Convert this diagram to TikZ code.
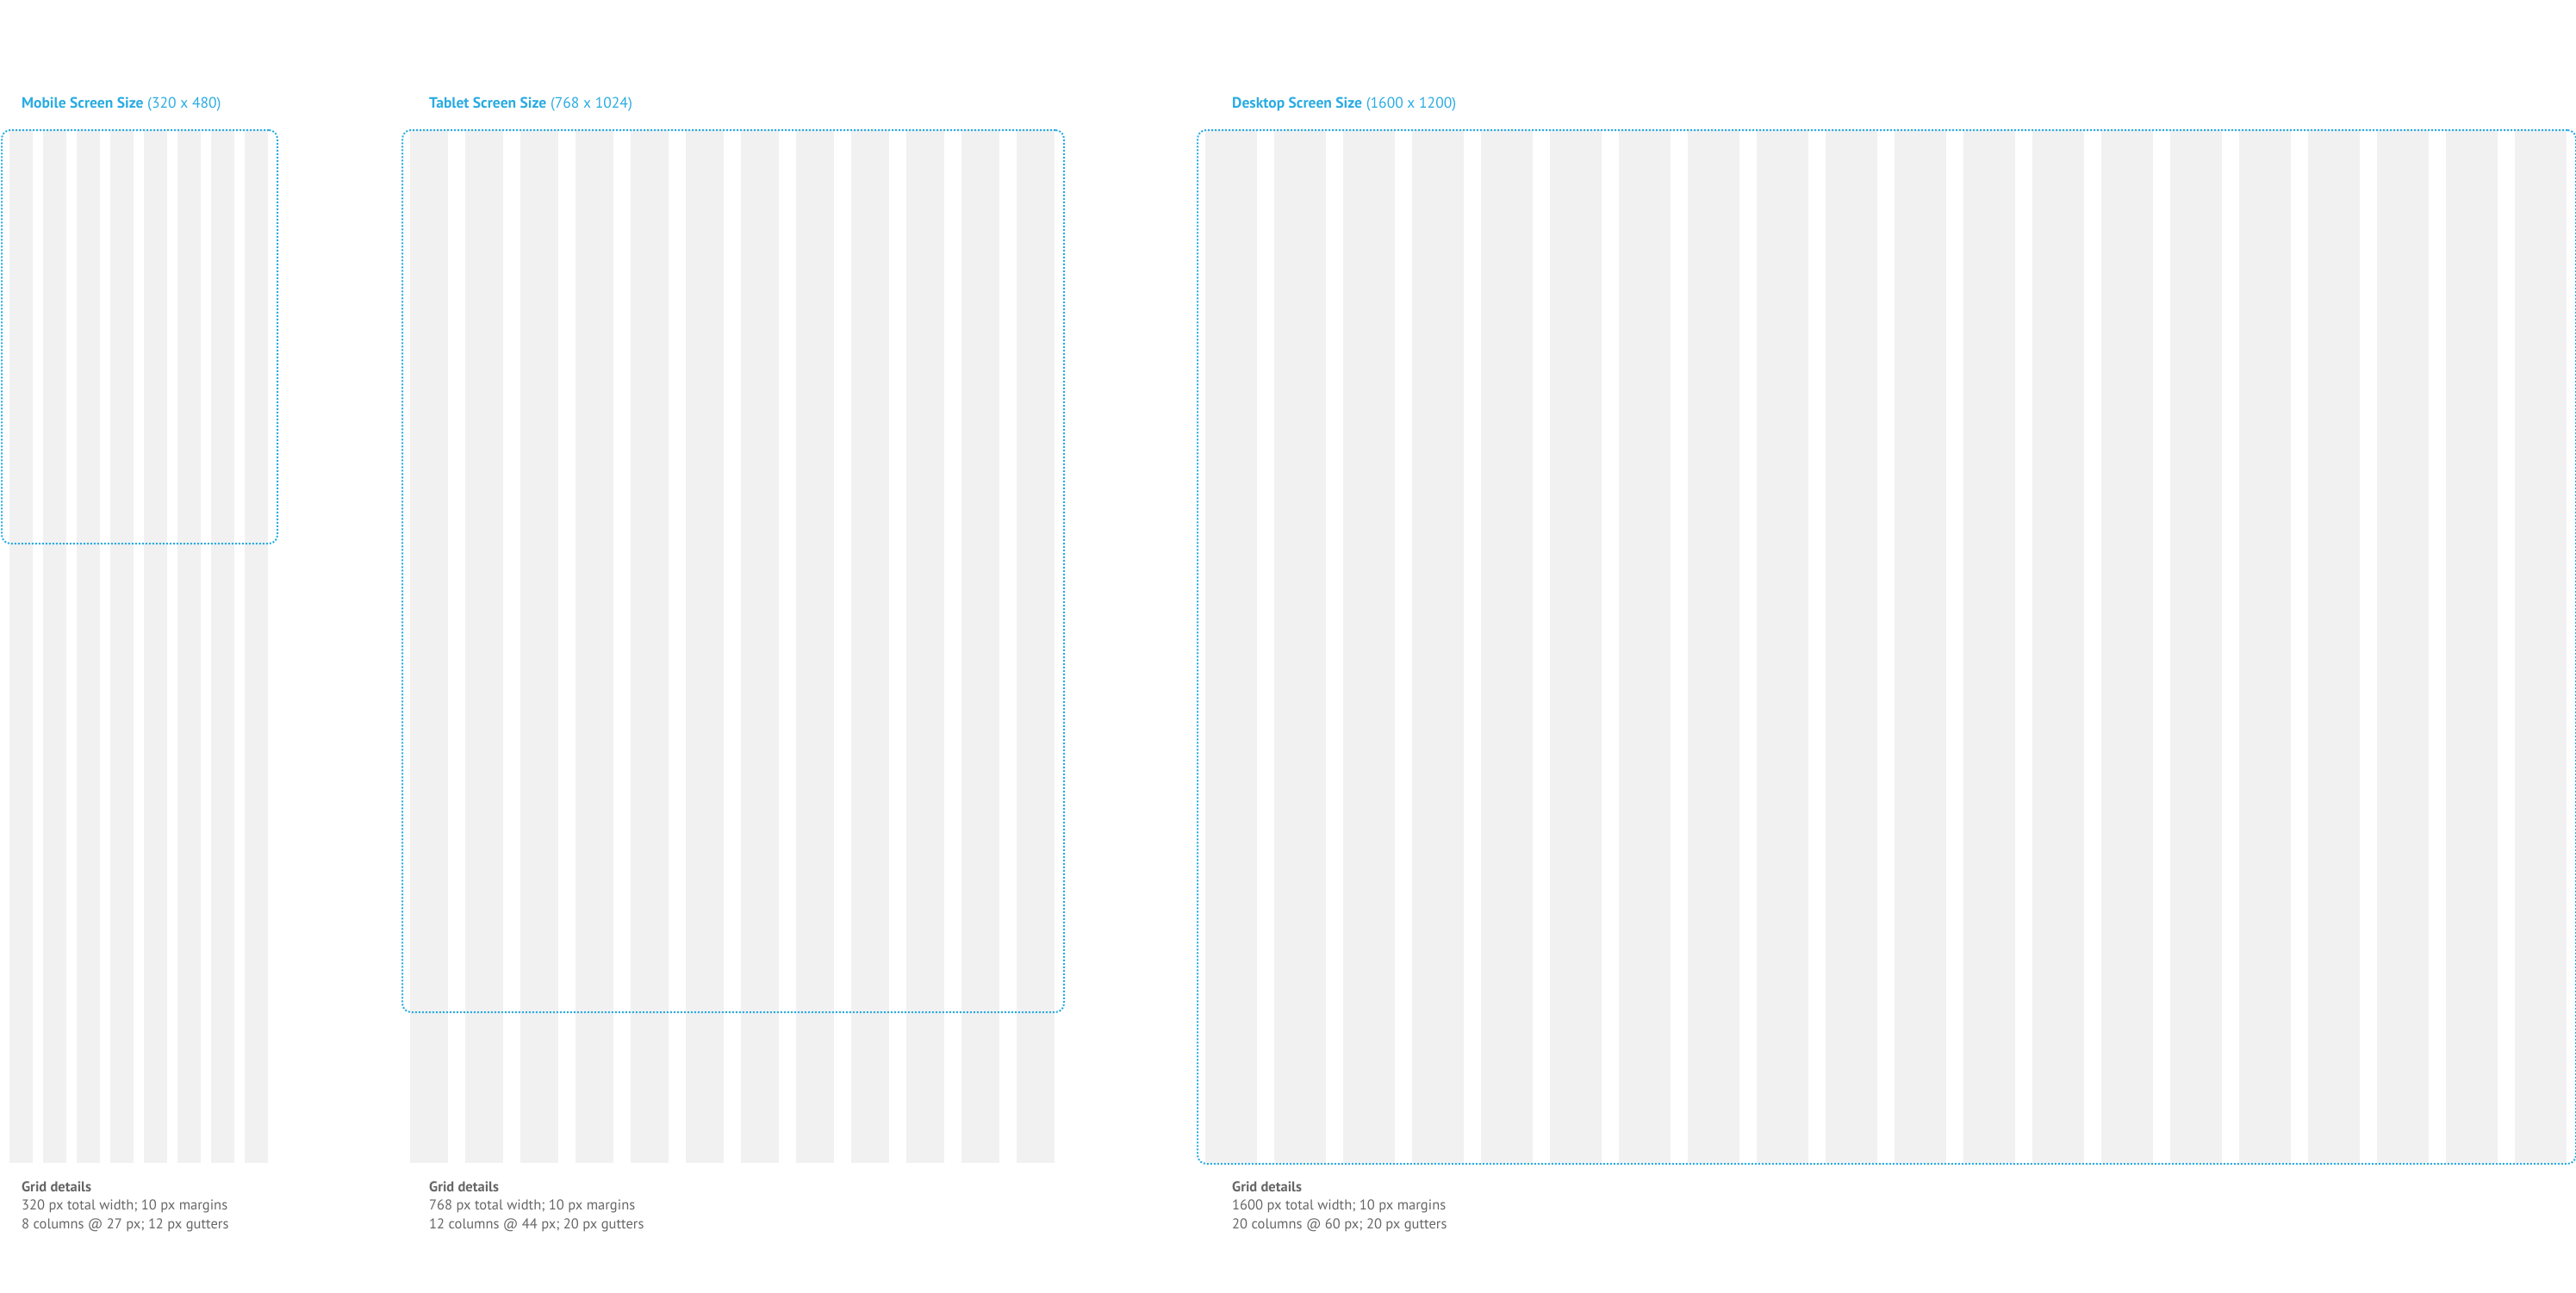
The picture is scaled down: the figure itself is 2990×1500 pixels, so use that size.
\documentclass[tikz,border=0pt]{standalone}
\usepackage{fontspec}
\setmainfont{PT Sans}
\usepackage{xcolor}
\usepackage{tikz}
\usetikzlibrary{positioning}

\definecolor{screenblue}{HTML}{29ABE2}
\definecolor{colgray}{HTML}{F1F1F1}
\definecolor{textgray}{HTML}{666666}

\tikzset{
  gridcol/.style={fill=colgray, draw=none},
  screenbox/.style={draw=screenblue, line width=2pt, dash pattern=on 2pt off 2pt,
    rounded corners=10pt, inner sep=0pt, anchor=north west},
  screentitle/.style={inner sep=0pt, anchor=base west, text=screenblue,
    font=\fontsize{17.5}{21}\selectfont},
  gridnote/.style={inner sep=0pt, anchor=base west, text=textgray,
    font=\fontsize{16.5}{21}\selectfont}
}

\begin{document}
\begin{tikzpicture}[x=1pt, y=-1pt]
  \useasboundingbox (0,0) rectangle (2990,1500);

  % columns first, the dotted screen outline goes on top
  \foreach \name/\bx/\w/\h/\n/\cw/\gw in {mobile/1/320/480/8/27/12,
      tablet/466/768/1024/12/44/20, desktop/1389/1600/1200/20/60/20} {
    \foreach \c in {1,...,\n} {
      \fill[gridcol] ({\bx+10+(\c-1)*(\cw+\gw)}, 151) rectangle +(\cw, 1199);
    }
    \node[screenbox, minimum width=\w pt, minimum height=\h pt] (\name) at (\bx, 150) {};
  }

  % titles
  \node[screentitle] (mobiletitle) at (25, 125) {\textbf{Mobile Screen Size} (320 x 480)};
  \node[screentitle] (tablettitle) at (498, 125) {\textbf{Tablet Screen Size} (768 x 1024)};
  \node[screentitle] (desktoptitle) at (1430, 125) {\textbf{Desktop Screen Size} (1600 x 1200)};

  % grid details
  \foreach \name/\x/\tw/\n/\cw/\gw in {mobile/25/320/8/27/12, tablet/498/768/12/44/20,
      desktop/1430/1600/20/60/20} {
    \node[gridnote] (\name head) at (\x, 1383) {\textbf{Grid details}};
    \node[gridnote] (\name width) at (\x, 1404.5) {\tw\ px total width; 10 px margins};
    \node[gridnote] (\name cols) at (\x, 1426) {\n\ columns @ \cw\ px; \gw\ px gutters};
  }
\end{tikzpicture}
\end{document}
